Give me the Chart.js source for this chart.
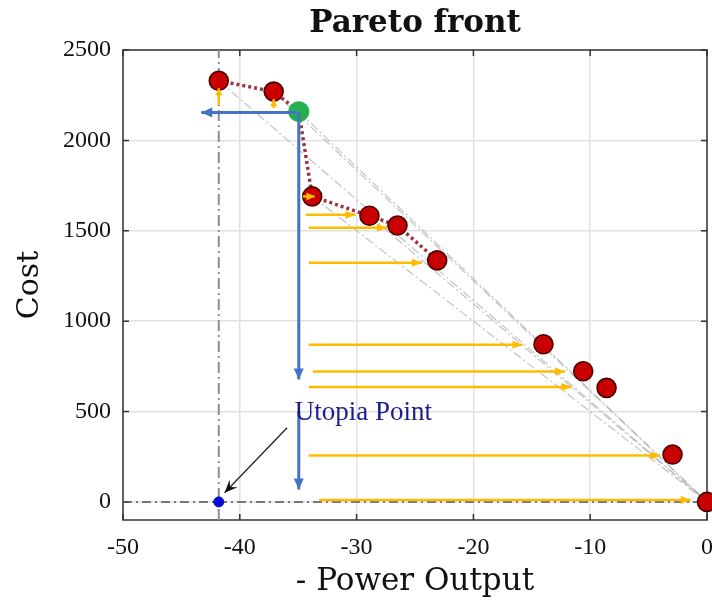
<!DOCTYPE html>
<html><head><meta charset="utf-8">
<script src="https://cdn.jsdelivr.net/npm/chart.js@4"></script>
<style>html,body{margin:0;padding:0;background:#fff;overflow:hidden}</style>
</head><body>
<canvas id="c" width="712" height="601"></canvas>
<script>
// ---- data ----
const chartTitle = 'Pareto front';
const xTicks = [-50, -40, -30, -20, -10, 0];
const yTicks = [0, 500, 1000, 1500, 2000, 2500];
const frontX = [-41.8, -37.1, -33.8, -28.9, -26.5, -23.1, -14.0, -10.6, -8.6, -2.95, 0];
const frontY = [2330, 2270, 1690, 1583, 1529, 1336, 872, 723, 631, 262, 0];
const kneeX = [-34.95];
const kneeY = [2159];
const utopiaX = [-41.8];
const utopiaY = [0];
const pathX = [-41.8, -37.1, -34.95, -33.8, -28.9, -26.5, -23.1];
const pathY = [2330, 2270, 2159, 1690, 1583, 1529, 1336];
const rayFromX = [-41.8, -37.1, -34.95, -33.8, -28.9];
const rayFromY = [2330, 2270, 2159, 1690, 1583];
const rayToX = [0];
const rayToY = [0];
const orangeY = [1588, 1517, 1323, 870, 721, 636, 257, 10];
const orangeFromX = [-34.35, -34.1, -34.1, -34.1, -33.75, -34.1, -34.1, -33.2];
const orangeToX = [-30.1, -27.4, -24.4, -15.8, -12.15, -11.6, -4.0, -1.4];
const upArrowX = [-41.8, -37.1];
const upFromY = [2196, 2178];
const upToY = [2288, 2228];
const nudgeFromX = [-34.6];
const nudgeToX = [-33.6];
const nudgeY = [1690];
const blueArrows = [
  {fx: -34.95, fy: 2154, tx: -43.3, ty: 2154},
  {fx: -34.95, fy: 2154, tx: -34.95, ty: 677},
  {fx: -34.95, fy: 502, tx: -34.95, ty: 69}
];
const pointerFrom = [-35.95, 410];
const pointerTo = [-41.3, 51];
const labelText = 'Utopia Point';
const labelPos = [-35.3, 493];
const utopiaVX = [-41.8, -41.8];
const utopiaVY = [-100, 2500];
const utopiaHX = [-50, 0];
const utopiaHY = [0, 0];

// ---- datasets ----
const ORANGE = '#ffbb00';
const BLUE = '#4472c4';
const ds = [];
const seg = (x1, y1, x2, y2) => [{x: x1, y: y1}, {x: x2, y: y2}];

// top-most first (Chart.js draws index 0 last)
ds.push({data: seg(pointerFrom[0], pointerFrom[1], pointerTo[0], pointerTo[1]), showLine: true, borderColor: '#222', borderWidth: 1.3, pointRadius: 0, arrow: {style: 'stealth', len: 13, wid: 11, color: '#111'}, clip: false});
blueArrows.forEach(b => ds.push({data: seg(b.fx, b.fy, b.tx, b.ty), showLine: true, borderColor: BLUE, borderWidth: 3, pointRadius: 0, arrow: {len: 11, wid: 10, color: BLUE}, clip: false}));
orangeY.forEach((y, i) => ds.push({data: seg(orangeFromX[i], y, orangeToX[i], y), showLine: true, borderColor: ORANGE, borderWidth: 2.5, pointRadius: 0, arrow: {len: 10, wid: 8, color: ORANGE}, clip: false}));
upArrowX.forEach((x, i) => ds.push({data: seg(x, upFromY[i], x, upToY[i]), showLine: true, borderColor: ORANGE, borderWidth: 2.5, pointRadius: 0, arrow: {len: 7, wid: 7, color: ORANGE}, clip: false}));
nudgeY.forEach((y, i) => ds.push({data: seg(nudgeFromX[i], y, nudgeToX[i], y), showLine: true, borderColor: ORANGE, borderWidth: 2.5, pointRadius: 0, arrow: {len: 8, wid: 8, color: ORANGE}, clip: false}));
ds.push({data: utopiaX.map((x, i) => ({x, y: utopiaY[i]})), pointRadius: 5, pointBackgroundColor: '#0a0ad0', pointBorderColor: '#0a0ad0', clip: false});
ds.push({data: kneeX.map((x, i) => ({x, y: kneeY[i]})), pointRadius: 10.5, pointBackgroundColor: '#22b14c', pointBorderColor: '#22b14c', pointBorderWidth: 0, clip: false});
ds.push({data: frontX.map((x, i) => ({x, y: frontY[i]})), pointRadius: 9.5, pointBackgroundColor: '#c80000', pointBorderColor: '#4a0000', pointBorderWidth: 1.6, clip: false});
ds.push({data: pathX.map((x, i) => ({x, y: pathY[i]})), showLine: true, borderColor: 'rgba(150,30,40,0.9)', borderWidth: 3.5, borderDash: [3, 3], pointRadius: 0});
ds.push({data: seg(utopiaHX[0], utopiaHY[0], utopiaHX[1], utopiaHY[1]), showLine: true, borderColor: '#50506a', borderWidth: 1.5, borderDash: [9, 4, 2, 4], pointRadius: 0});
ds.push({data: seg(utopiaVX[0], utopiaVY[0], utopiaVX[1], utopiaVY[1]), showLine: true, borderColor: '#8a8aa0', borderWidth: 2, borderDash: [11, 4, 2, 4], pointRadius: 0});
rayFromX.forEach((x, i) => ds.push({data: seg(x, rayFromY[i], rayToX[0], rayToY[0]), showLine: true, borderColor: 'rgba(175,175,175,0.75)', borderWidth: 1.2, borderDash: [9, 3, 2, 3], pointRadius: 0}));

// ---- plugins ----
const framePlugin = {
  id: 'frame',
  beforeDatasetsDraw(chart) {
    const {ctx, chartArea: a, scales: {x, y}} = chart;
    ctx.save();
    ctx.strokeStyle = '#333';
    ctx.lineWidth = 1.5;
    ctx.strokeRect(a.left, a.top, a.right - a.left, a.bottom - a.top);
    ctx.beginPath();
    x.ticks.forEach(t => {
      const p = x.getPixelForValue(t.value);
      ctx.moveTo(p, a.bottom); ctx.lineTo(p, a.bottom - 6);
      ctx.moveTo(p, a.top); ctx.lineTo(p, a.top + 6);
    });
    y.ticks.forEach(t => {
      const p = y.getPixelForValue(t.value);
      ctx.moveTo(a.left, p); ctx.lineTo(a.left + 6, p);
      ctx.moveTo(a.right, p); ctx.lineTo(a.right - 6, p);
    });
    ctx.stroke();
    ctx.restore();
  }
};
const arrowPlugin = {
  id: 'arrows',
  afterDatasetDraw(chart, args) {
    const d = chart.data.datasets[args.index];
    if (!d.arrow) return;
    const pts = args.meta.data;
    const p1 = pts[pts.length - 2], p2 = pts[pts.length - 1];
    const ang = Math.atan2(p2.y - p1.y, p2.x - p1.x);
    const {len, wid, color, style} = d.arrow;
    const ctx = chart.ctx;
    ctx.save();
    ctx.translate(p2.x, p2.y);
    ctx.rotate(ang);
    ctx.fillStyle = color;
    ctx.beginPath();
    ctx.moveTo(0, 0);
    ctx.lineTo(-len, -wid / 2);
    if (style === 'stealth') ctx.lineTo(-len * 0.6, 0);
    ctx.lineTo(-len, wid / 2);
    ctx.closePath();
    ctx.fill();
    ctx.restore();
  }
};
const labelPlugin = {
  id: 'label',
  afterDatasetsDraw(chart) {
    const {ctx, chartArea: a, scales: {x, y}} = chart;
    ctx.save();
    ctx.font = '27px "Liberation Serif"';
    ctx.fillStyle = '#1c1c8c';
    ctx.textAlign = 'left';
    ctx.textBaseline = 'middle';
    ctx.fillText(labelText, x.getPixelForValue(labelPos[0]), y.getPixelForValue(labelPos[1]));
    // chart title centred over the plot area
    ctx.font = 'bold 31px "DejaVu Serif"';
    ctx.fillStyle = '#111';
    ctx.textAlign = 'center';
    ctx.fillText(chartTitle, (a.left + a.right) / 2, a.top - 26);
    ctx.restore();
  }
};

new Chart(document.getElementById('c'), {
  type: 'scatter',
  data: {datasets: ds},
  options: {
    responsive: false,
    animation: false,
    layout: {autoPadding: false, padding: {left: 0, right: 5, top: 50, bottom: 0}},
    plugins: {
      legend: {display: false},
      tooltip: {enabled: false},
      title: {display: false}
    },
    scales: {
      x: {
        type: 'linear', min: -50, max: 0,
        afterBuildTicks: s => { s.ticks = xTicks.map(v => ({value: v})); },
        afterFit: s => { s.height = 81; s.paddingLeft = 0; s.paddingRight = 0; },
        grid: {color: '#e2e2e2', lineWidth: 1.5, drawTicks: false},
        border: {display: false},
        ticks: {color: '#111', padding: 13, font: {family: 'Liberation Serif', size: 24}, maxRotation: 0,
          callback: v => String(v)},
        title: {display: true, text: '- Power Output', color: '#111',
          font: {family: 'DejaVu Serif', size: 31}, padding: {top: 0, bottom: 0}}
      },
      y: {
        type: 'linear', min: -100, max: 2500,
        afterBuildTicks: s => { s.ticks = yTicks.map(v => ({value: v})); },
        afterFit: s => { s.width = 123; s.paddingTop = 0; s.paddingBottom = 0; },
        grid: {color: '#e2e2e2', lineWidth: 1.5, drawTicks: false},
        border: {display: false},
        ticks: {color: '#111', padding: 12, font: {family: 'Liberation Serif', size: 24},
          callback: v => String(v)},
        title: {display: true, text: 'Cost', color: '#111',
          font: {family: 'DejaVu Serif', size: 30}, padding: {top: 12, bottom: 0}}
      }
    }
  },
  plugins: [framePlugin, arrowPlugin, labelPlugin]
});
</script>
</body></html>
